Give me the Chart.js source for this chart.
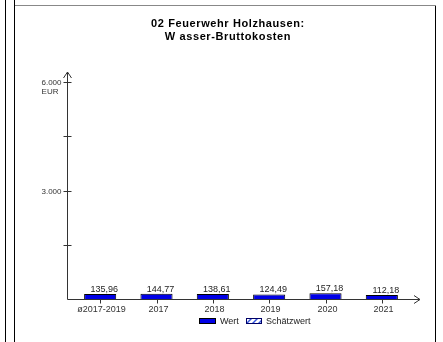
<!DOCTYPE html>
<html>
<head>
<meta charset="utf-8">
<script src="https://cdn.jsdelivr.net/npm/chart.js@4/dist/chart.umd.min.js"></script>
<style>
    html, body { margin: 0; padding: 0; background: #fff; }
    #wrap { width: 443px; height: 342px; position: relative; }
</style>
</head>
<body>
<div id="wrap"><canvas id="chart" width="443" height="342"></canvas></div>
<script>
const TITLE_LINES = ["02 Feuerwehr Holzhausen:", "W asser-Bruttokosten"];
const CATEGORIES = ["ø2017-2019", "2017", "2018", "2019", "2020", "2021"];
const WERT = [135.96, 144.77, 138.61, 124.49, 157.18, 112.18];
const SCHAETZWERT = [null, null, null, null, null, null];
const Y_TICKS = [1500, 3000, 4500, 6000];
const Y_TICK_LABELS = ["", "3.000", "", "6.000"];
const Y_UNIT = "EUR";
const LEGEND = ["Wert", "Schätzwert"];

const FONT = "Arial, 'Liberation Sans', sans-serif";
const BAR_BLUE = "#0000e6";

function fmt(v) {
    return v.toFixed(2).replace(".", ",");
}

function hatch(ctx) {
    const p = document.createElement("canvas");
    p.width = 6;
    p.height = 6;
    const c = p.getContext("2d");
    c.fillStyle = "#fff";
    c.fillRect(0, 0, 6, 6);
    c.strokeStyle = "#3355dd";
    c.lineWidth = 1.5;
    c.beginPath();
    c.moveTo(0, 6);
    c.lineTo(6, 0);
    c.stroke();
    return ctx.createPattern(p, "repeat");
}

// frame, axes with arrows, tick marks, labels, title, legend
const decor = {
    id: "decor",
    afterDraw(chart) {
        const { ctx, chartArea, scales } = chart;
        const xs = scales.x;
        const ys = scales.y;
        const x0 = chartArea.left - 5;
        const y0 = ys.getPixelForValue(0);

        ctx.save();

        // page frame
        ctx.lineWidth = 1;
        ctx.strokeStyle = "#000";
        ctx.beginPath();
        ctx.moveTo(5.5, 0);
        ctx.lineTo(5.5, 342);
        ctx.moveTo(14.5, 0);
        ctx.lineTo(14.5, 342);
        ctx.moveTo(435.5, 6);
        ctx.lineTo(435.5, 342);
        ctx.stroke();
        ctx.strokeStyle = "#888";
        ctx.beginPath();
        ctx.moveTo(15, 5.5);
        ctx.lineTo(436, 5.5);
        ctx.stroke();

        // title
        ctx.fillStyle = "#000";
        ctx.font = "bold 11px " + FONT;
        ctx.textAlign = "center";
        ctx.textBaseline = "middle";
        if ("letterSpacing" in ctx) ctx.letterSpacing = "0.6px";
        TITLE_LINES.forEach((t, i) => ctx.fillText(t, 228, 24 + i * 13));
        if ("letterSpacing" in ctx) ctx.letterSpacing = "0px";

        // y axis
        ctx.strokeStyle = "#333";
        ctx.lineWidth = 1;
        const ax = Math.round(x0) + 0.5;
        const ay = Math.round(y0) + 0.5;
        ctx.beginPath();
        ctx.moveTo(ax, ay);
        ctx.lineTo(ax, 72);
        ctx.moveTo(ax - 4, 78);
        ctx.lineTo(ax, 72);
        ctx.lineTo(ax + 4, 78);
        ctx.stroke();

        // x axis
        ctx.beginPath();
        ctx.moveTo(ax, ay);
        ctx.lineTo(420, ay);
        ctx.moveTo(414, ay - 4);
        ctx.lineTo(420, ay);
        ctx.lineTo(414, ay + 4);
        ctx.stroke();

        // y ticks
        ctx.font = "8px " + FONT;
        ctx.fillStyle = "#333";
        ctx.textAlign = "right";
        Y_TICKS.forEach((v, i) => {
            const py = Math.round(ys.getPixelForValue(v)) + 0.5;
            ctx.beginPath();
            ctx.moveTo(ax - 4, py);
            ctx.lineTo(ax + 4, py);
            ctx.stroke();
            if (Y_TICK_LABELS[i]) ctx.fillText(Y_TICK_LABELS[i], ax - 6, py);
        });
        ctx.fillText(Y_UNIT, ax - 9, ys.getPixelForValue(6000) + 10);

        // x ticks and category labels
        ctx.font = "9px " + FONT;
        ctx.textAlign = "center";
        CATEGORIES.forEach((c, i) => {
            const px = Math.round(xs.getPixelForValue(i)) + 0.5;
            ctx.beginPath();
            ctx.moveTo(px, ay);
            ctx.lineTo(px, ay + 4);
            ctx.stroke();
            ctx.fillText(c, px + 1, 310);
        });

        // value labels
        ctx.fillStyle = "#222";
        ctx.textBaseline = "alphabetic";
        chart.getDatasetMeta(0).data.forEach((bar, i) => {
            ctx.fillText(fmt(WERT[i]), bar.x + 4, bar.y - 2);
        });

        // legend
        ctx.textAlign = "left";
        ctx.textBaseline = "middle";
        ctx.fillStyle = BAR_BLUE;
        ctx.fillRect(199, 318, 17, 6);
        ctx.strokeStyle = "#000";
        ctx.strokeRect(199.5, 318.5, 16, 5);
        ctx.fillStyle = "#222";
        ctx.fillText(LEGEND[0], 220, 321.5);
        ctx.fillStyle = hatch(ctx);
        ctx.fillRect(246, 318, 16, 6);
        ctx.strokeStyle = "#000066";
        ctx.strokeRect(246.5, 318.5, 15, 5);
        ctx.fillStyle = "#222";
        ctx.fillText(LEGEND[1], 266, 321.5);

        ctx.restore();
    },
};

new Chart(document.getElementById("chart"), {
    type: "bar",
    data: {
        labels: CATEGORIES,
        datasets: [
            {
                label: LEGEND[0],
                data: WERT,
                backgroundColor: BAR_BLUE,
                borderColor: "#000",
                borderWidth: 1,
                categoryPercentage: 1,
                barPercentage: 0.57,
                grouped: false,
            },
            {
                label: LEGEND[1],
                data: SCHAETZWERT,
                backgroundColor: "#fff",
                borderColor: "#000066",
                borderWidth: 1,
                categoryPercentage: 1,
                barPercentage: 0.57,
                grouped: false,
            },
        ],
    },
    options: {
        responsive: false,
        animation: false,
        events: [],
        layout: { padding: { left: 72, right: 33, top: 82, bottom: 43 } },
        plugins: {
            legend: { display: false },
            title: { display: false },
            tooltip: { enabled: false },
        },
        scales: {
            x: { display: false },
            y: { display: false, min: 0, max: 6000 },
        },
    },
    plugins: [decor],
});
</script>
</body>
</html>
